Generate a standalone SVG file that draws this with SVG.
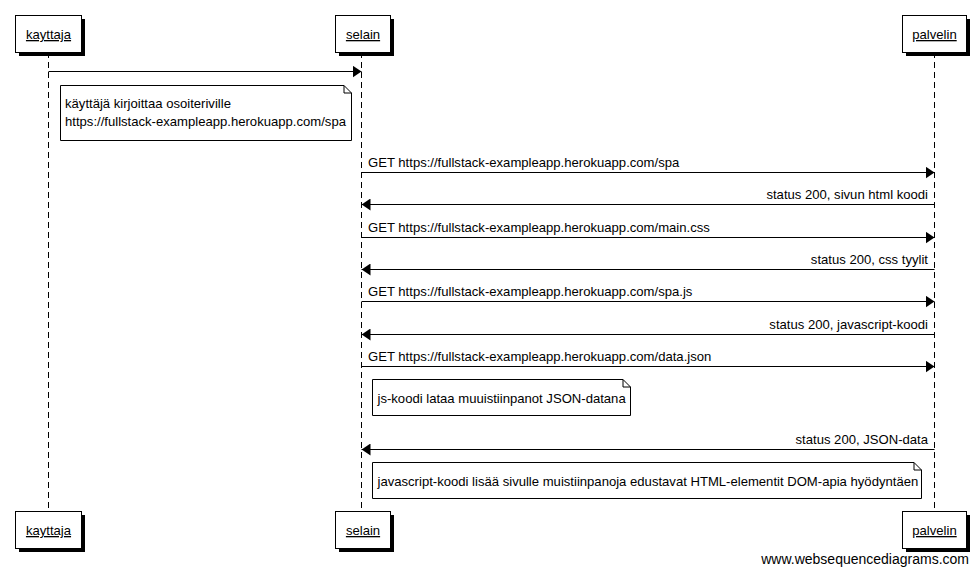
<svg xmlns="http://www.w3.org/2000/svg" width="980" height="574" viewBox="0 0 980 574">
<defs>
<marker id="ah" viewBox="0 0 9 12" refX="9" refY="6" markerWidth="9" markerHeight="12" markerUnits="userSpaceOnUse" orient="auto">
<path d="M0,0 L9,6 L0,12 Z" fill="#000"/>
</marker>
</defs>
<style>
text{font-family:"Liberation Sans",Arial,sans-serif;font-size:13.1px;fill:#000}
.actor{fill:#fff;stroke:#000;stroke-width:1}
.shadow{fill:#000}
.lbl{text-anchor:middle;text-decoration:underline}
.life{stroke:#000;stroke-width:1;stroke-dasharray:6,4;fill:none}
.msg{stroke:#000;stroke-width:1;fill:none;marker-end:url(#ah)}
.note{fill:#fff;stroke:#000;stroke-width:1}
.r{text-anchor:end}
.wm{font-size:14px;text-anchor:end}
</style>
<rect width="980" height="574" fill="#fff"/>
<g id="lifelines">
<line class="life" x1="48.5" y1="52" x2="48.5" y2="512"/>
<line class="life" x1="361.5" y1="52" x2="361.5" y2="512"/>
<line class="life" x1="934.5" y1="52" x2="934.5" y2="512"/>
</g>
<g id="kayttaja">
<rect class="shadow" x="19" y="19" width="66" height="37"/>
<rect class="actor" x="15.5" y="15.5" width="66" height="37"/>
<text class="lbl" x="48.5" y="39">kayttaja</text>
<rect class="shadow" x="19" y="515" width="66" height="37"/>
<rect class="actor" x="15.5" y="511.5" width="66" height="37"/>
<text class="lbl" x="48.5" y="535">kayttaja</text>
</g>
<g id="selain">
<rect class="shadow" x="339" y="19" width="55" height="37"/>
<rect class="actor" x="335.5" y="15.5" width="55" height="37"/>
<text class="lbl" x="363" y="39">selain</text>
<rect class="shadow" x="339" y="515" width="55" height="37"/>
<rect class="actor" x="335.5" y="511.5" width="55" height="37"/>
<text class="lbl" x="363" y="535">selain</text>
</g>
<g id="palvelin">
<rect class="shadow" x="906" y="19" width="64" height="37"/>
<rect class="actor" x="902.5" y="15.5" width="64" height="37"/>
<text class="lbl" x="934.5" y="39">palvelin</text>
<rect class="shadow" x="906" y="515" width="64" height="37"/>
<rect class="actor" x="902.5" y="511.5" width="64" height="37"/>
<text class="lbl" x="934.5" y="535">palvelin</text>
</g>
<g id="connectors">
<line class="msg" x1="48.5" y1="71.5" x2="361.5" y2="71.5"/>
<line class="msg" x1="361.5" y1="172.5" x2="934.5" y2="172.5"/>
<text x="368" y="167">GET https://fullstack-exampleapp.herokuapp.com/spa</text>
<line class="msg" x1="934.5" y1="204.5" x2="361.5" y2="204.5"/>
<text class="r" x="928" y="199">status 200, sivun html koodi</text>
<line class="msg" x1="361.5" y1="237.5" x2="934.5" y2="237.5"/>
<text x="368" y="232">GET https://fullstack-exampleapp.herokuapp.com/main.css</text>
<line class="msg" x1="934.5" y1="269.5" x2="361.5" y2="269.5"/>
<text class="r" x="928" y="264">status 200, css tyylit</text>
<line class="msg" x1="361.5" y1="301.5" x2="934.5" y2="301.5"/>
<text x="368" y="296">GET https://fullstack-exampleapp.herokuapp.com/spa.js</text>
<line class="msg" x1="934.5" y1="334.5" x2="361.5" y2="334.5"/>
<text class="r" x="928" y="329">status 200, javascript-koodi</text>
<line class="msg" x1="361.5" y1="366.5" x2="934.5" y2="366.5"/>
<text x="368" y="361">GET https://fullstack-exampleapp.herokuapp.com/data.json</text>
<line class="msg" x1="934.5" y1="449.5" x2="361.5" y2="449.5"/>
<text class="r" x="928" y="444">status 200, JSON-data</text>
</g>
<g id="note1">
<path class="note" d="M60.5,85.5 H344 L351.5,93 V140.5 H60.5 Z"/>
<path d="M344,85.5 V93 H351.5" fill="none" stroke="#000"/>
<text x="65" y="107.5">käyttäjä kirjoittaa osoiteriville</text>
<text x="65" y="126">https://fullstack-exampleapp.herokuapp.com/spa</text>
</g>
<g id="note2">
<path class="note" d="M372.5,379.5 H623 L630.5,387 V415.5 H372.5 Z"/>
<path d="M623,379.5 V387 H630.5" fill="none" stroke="#000"/>
<text x="377.5" y="403">js-koodi lataa muuistiinpanot JSON-datana</text>
</g>
<g id="note3">
<path class="note" d="M372.5,462.5 H914 L921.5,470 V498.5 H372.5 Z"/>
<path d="M914,462.5 V470 H921.5" fill="none" stroke="#000"/>
<text x="377.5" y="486">javascript-koodi lisää sivulle muistiinpanoja edustavat HTML-elementit DOM-apia hyödyntäen</text>
</g>
<text class="wm" x="969" y="564">www.websequencediagrams.com</text>
</svg>
